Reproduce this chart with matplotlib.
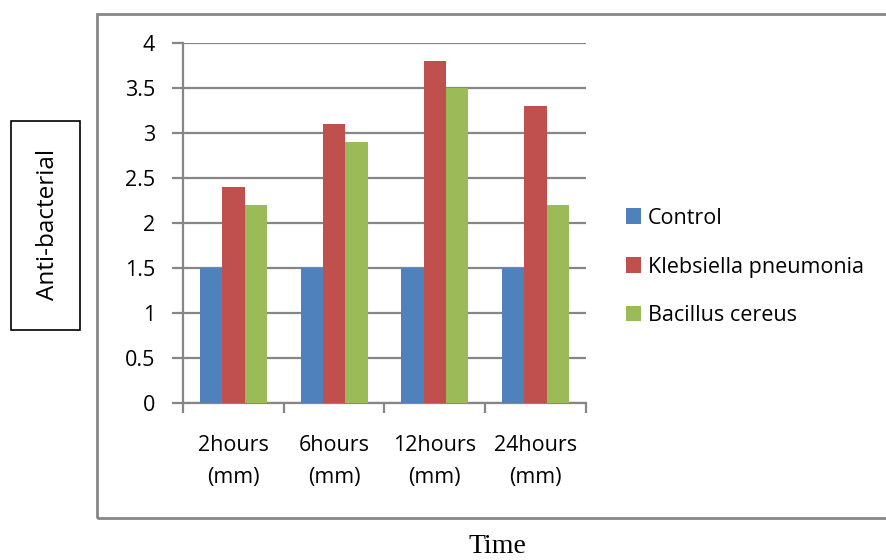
import numpy as np
import matplotlib
matplotlib.use('Agg')
import matplotlib.pyplot as plt
from matplotlib.patches import Rectangle

# Valores de la zona de inhibición por tiempo de incubación
categories = ['2hours\n(mm)', '6hours\n(mm)', '12hours\n(mm)', '24hours\n(mm)']
control = [1.5, 1.5, 1.5, 1.5]
klebsiella = [2.4, 3.1, 3.8, 3.3]
bacillus = [2.2, 2.9, 3.5, 2.2]
series_names = ['Control', 'Klebsiella pneumonia', 'Bacillus cereus']
yticks = [0, 0.5, 1, 1.5, 2, 2.5, 3, 3.5, 4]

colors = ['#4F81BD', '#C0504D', '#9BBB59']
gray = '#868686'
plt.rcParams['font.family'] = ['Open Sans', 'DejaVu Sans']
fs = 15.5

fig = plt.figure(figsize=(8.87, 5.6), dpi=100)
ax = fig.add_axes([183 / 887, 1 - 403 / 560, 403 / 887, 360 / 560])

x = np.arange(len(categories))
w = 1 / 4.5
for i, (vals, name) in enumerate(zip([control, klebsiella, bacillus], series_names)):
    ax.bar(x + (i - 1) * w, vals, width=w, color=colors[i], label=name, zorder=3)

ax.set_xlim(-0.5, len(categories) - 0.5)
ax.set_ylim(0, 4)
ax.set_yticks(yticks)
ax.set_yticklabels([f'{v:g}' for v in yticks], fontsize=fs)
ax.yaxis.grid(True, color=gray, linewidth=1.6, zorder=0)

# Marcas del eje x entre categorías
ax.set_xticks(np.arange(-0.5, len(categories), 1))
ax.set_xticklabels([])
ax.set_xticks(x, minor=True)
ax.set_xticklabels(categories, minor=True, fontsize=fs, linespacing=1.72)
ax.tick_params(axis='x', which='major', length=7, color=gray, width=1.6)
ax.tick_params(axis='x', which='minor', length=0, pad=23)
ax.tick_params(axis='y', length=8, color=gray, width=1.6, pad=12)

for side in ['top', 'right']:
    ax.spines[side].set_visible(False)
for side in ['left', 'bottom']:
    ax.spines[side].set_color(gray)
    ax.spines[side].set_linewidth(1.6)

leg = ax.legend(loc='center left', bbox_to_anchor=(626 / 887, 1 - 267 / 560),
                bbox_transform=fig.transFigure, frameon=False, fontsize=fs,
                handlelength=0.7, handleheight=0.7, handletextpad=0.3,
                labelspacing=1.3, borderaxespad=0, borderpad=0)

# Marco exterior del gráfico
fig.patches.append(Rectangle((97 / 887, 1 - 518 / 560), 1.0, 504 / 560,
                             transform=fig.transFigure, fill=False,
                             edgecolor=gray, linewidth=2))

# Etiqueta del eje y en su propio recuadro
fig.patches.append(Rectangle((11 / 887, 1 - 330 / 560), 69 / 887, 209 / 560,
                             transform=fig.transFigure, fill=False,
                             edgecolor='black', linewidth=1.2))
fig.text(48 / 887, 1 - 224 / 560, 'Anti-bacterial', rotation=90, fontsize=17.5,
         ha='center', va='center')

fig.text(497 / 887, 1 - 553 / 560, 'Time', fontsize=20, family='Liberation Serif',
         ha='center', va='baseline')

fig.savefig('out.png', dpi=100)
